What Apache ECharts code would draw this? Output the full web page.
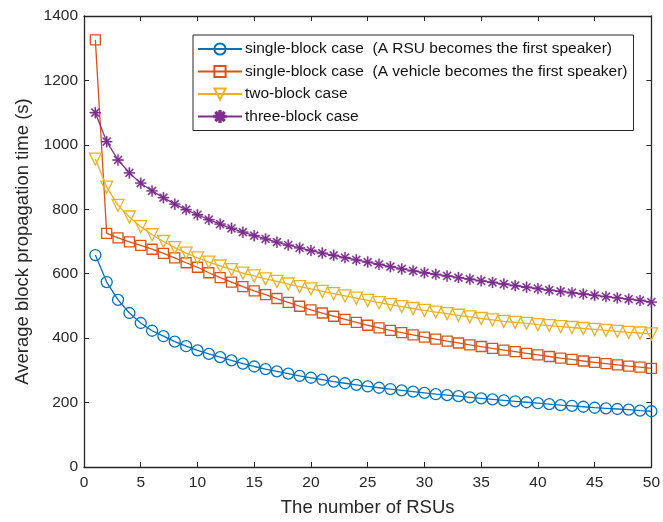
<!DOCTYPE html>
<html><head><meta charset="utf-8">
<script src="https://cdn.jsdelivr.net/npm/echarts@6/dist/echarts.min.js"></script>
<style>html,body{margin:0;padding:0;background:#fff}#c{width:663px;height:522px}</style>
</head><body><div id="c"></div>
<script>
const xs = Array.from({length:50},(_,i)=>i+1);
const xTicks = [0,5,10,15,20,25,30,35,40,45,50];
const yTicks = [0,200,400,600,800,1000,1200,1400];
const names = [
  'single-block case  (A RSU becomes the first speaker)',
  'single-block case  (A vehicle becomes the first speaker)',
  'two-block case',
  'three-block case'
];
const rsuFirst = [658,574,519,478,447,423,406,389,375,362,351,341,331,321,312,304,297,290,283,277,271,265,260,255,250,246,242,238,234,230,226,223,220,216,213,210,207,204,201,198,195,192,190,187,184,182,180,178,175,173];
const vehicleFirst = [1326,725,711,699,688,676,663,649,634,620,603,588,574,560,547,535,523,511,499,488,478,468,458,449,440,432,424,417,410,403,397,391,385,379,374,368,363,358,353,348,343,338,334,329,325,321,317,313,310,306];
const twoBlock = [956,869,812,776,746,721,700,681,664,649,636,624,613,602,593,584,576,568,560,553,545,538,531,524,517,510,504,498,492,486,481,476,471,466,461,457,452,449,446,442,439,436,433,430,427,424,421,418,416,413];
const threeBlock = [1100,1010,953,913,881,857,836,816,799,783,768,754,741,729,718,708,698,689,680,672,664,657,650,643,636,629,622,615,609,603,598,593,588,583,578,573,568,563,558,554,549,545,541,537,533,529,525,521,517,512];

const colors = ['#0072BD','#D95319','#EDB120','#7E2F8E'];
const star = 'path://M8.8 0L11.2 0L11.2 20L8.8 20Z M0 8.8L20 8.8L20 11.2L0 11.2Z M3.78 2.08L17.92 16.22L16.22 17.92L2.08 3.78Z M17.92 3.78L3.78 17.92L2.08 16.22L16.22 2.08Z';
const axisCol = '#262626';
const font = 'Liberation Sans, Arial, sans-serif';

function mk(name, data, color, symbol, size, rotate, hollow) {
  return {
    name, type:'line', data: data.map((v,i)=>[xs[i], v]),
    symbol, symbolSize:size, symbolRotate:rotate||0,
    showAllSymbol:true, animation:false,
    lineStyle:{color, width:1.3},
    itemStyle: hollow ? {color:'rgba(0,0,0,0)', borderColor:color, borderWidth:1.3}
                      : {color, borderColor:color, borderWidth:0.3},
    emphasis:{disabled:true}
  };
}

const chart = echarts.init(document.getElementById('c'), null, {renderer:'canvas'});
const axBase = {
  axisLine:{show:true, onZero:false, lineStyle:{color:axisCol, width:1.3}},
  axisTick:{show:true, inside:true, length:5, lineStyle:{color:axisCol}},
  splitLine:{show:false}
};
chart.setOption({
  animation:false,
  backgroundColor:'#fff',
  grid:{left:84, right:6, top:16, bottom:52, containLabel:false},
  xAxis:[
    Object.assign({type:'value', min:0, max:50, interval:5, position:'bottom',
      name:'The number of RSUs', nameLocation:'middle', nameGap:31,
      nameTextStyle:{color:axisCol, fontSize:18.5, fontFamily:font},
      axisLabel:{color:axisCol, fontSize:15.5, fontFamily:font, margin:8,
        formatter:v=>xTicks.includes(v)?String(v):''}}, axBase),
    Object.assign({type:'value', min:0, max:50, interval:5, position:'top',
      axisLabel:{show:false}}, axBase)
  ],
  yAxis:[
    Object.assign({type:'value', min:0, max:1400, interval:200, position:'left',
      name:'Average block propagation time (s)', nameLocation:'middle', nameGap:50,
      nameTextStyle:{color:axisCol, fontSize:18.5, fontFamily:font},
      axisLabel:{color:axisCol, fontSize:15.5, fontFamily:font, margin:6,
        formatter:v=>yTicks.includes(v)?String(v):''}}, axBase),
    Object.assign({type:'value', min:0, max:1400, interval:200, position:'right',
      axisLabel:{show:false}}, axBase)
  ],
  legend:{
    orient:'vertical', left:193, top:35, padding:[6,6,6,4],
    itemWidth:44, itemHeight:14, itemGap:6.5,
    borderColor:axisCol, borderWidth:1, backgroundColor:'#fff',
    textStyle:{color:'#111', fontSize:15.5, fontFamily:font, padding:[0,0,0,-2]},
    data:names
  },
  series:[
    mk(names[0], rsuFirst, colors[0], 'circle', 11, 0, true),
    mk(names[1], vehicleFirst, colors[1], 'rect', 10, 0, true),
    mk(names[2], twoBlock, colors[2], 'triangle', 12, 180, true),
    mk(names[3], threeBlock, colors[3], star, 11, 0, false)
  ]
});
</script></body></html>
